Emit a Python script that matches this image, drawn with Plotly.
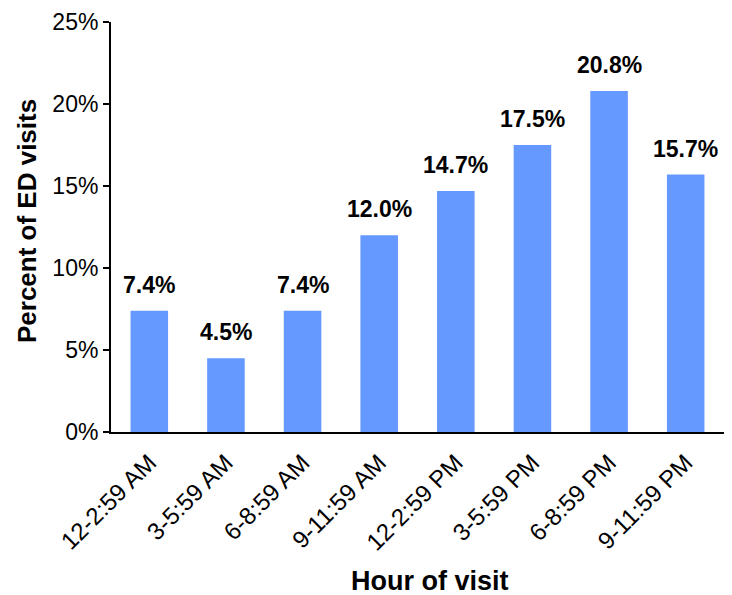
import plotly.graph_objects as go

categories = ["12-2:59 AM", "3-5:59 AM", "6-8:59 AM", "9-11:59 AM",
              "12-2:59 PM", "3-5:59 PM", "6-8:59 PM", "9-11:59 PM"]
values = [7.4, 4.5, 7.4, 12.0, 14.7, 17.5, 20.8, 15.7]
labels = [f"{v:.1f}%" for v in values]
y_tickvals = [0, 5, 10, 15, 20, 25]
y_ticktext = ["0%", "5%", "10%", "15%", "20%", "25%"]
x_title = "Hour of visit"
y_title = "Percent of ED visits"

FONT = "Liberation Sans, Arial, sans-serif"

fig = go.Figure(go.Bar(
    x=categories, y=values,
    marker=dict(color="#6699FF", line=dict(width=0)),
    width=0.49,
))

for c, v, t in zip(categories, values, labels):
    fig.add_annotation(
        x=c, y=v, text=f"<b>{t}</b>", showarrow=False,
        yanchor="bottom", yshift=11,
        font=dict(family=FONT, size=23, color="black"),
    )

# axis titles
fig.add_annotation(
    xref="paper", yref="paper", x=0.5204, y=-0.3625,
    xanchor="center", yanchor="middle", showarrow=False,
    text=f"<b>{x_title}</b>", font=dict(family=FONT, size=27, color="black"),
)
fig.add_annotation(
    xref="paper", yref="paper", x=-0.137, y=0.5146,
    xanchor="center", yanchor="middle", showarrow=False, textangle=-90,
    text=f"<b>{y_title}</b>", font=dict(family=FONT, size=26, color="black"),
)

fig.update_layout(
    width=732, height=595,
    margin=dict(l=111, r=8, t=22, b=163),
    plot_bgcolor="white", paper_bgcolor="white",
    font=dict(family=FONT, color="black"),
    showlegend=False,
    xaxis=dict(
        showline=True, linecolor="black", linewidth=2,
        ticks="", tickangle=-45, tickfont=dict(size=24),
        ticklabelstandoff=5,
        showgrid=False,
    ),
    yaxis=dict(
        range=[0, 25], tickvals=y_tickvals, ticktext=y_ticktext,
        showline=True, linecolor="black", linewidth=2,
        ticks="outside", ticklen=6, tickwidth=2, tickcolor="black",
        tickfont=dict(size=23), showgrid=False, zeroline=False,
    ),
)

fig.write_html("out.html")
